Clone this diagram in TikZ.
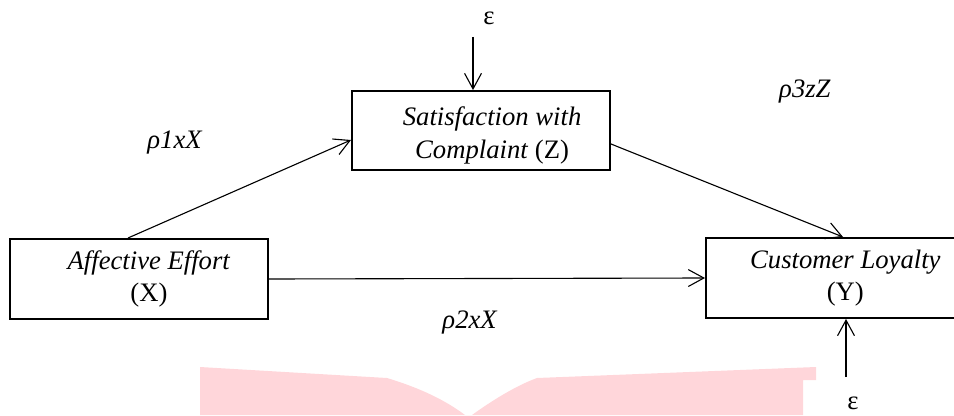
\documentclass[tikz,border=0pt]{standalone}
\usepackage{fontspec}
\setmainfont{Liberation Serif}
\usetikzlibrary{arrows.meta, calc}
\definecolor{wmpink}{RGB}{255,214,218}

\begin{document}
\begin{tikzpicture}[x=0.45pt, y=-0.45pt, font=\fontsize{12}{14.5}\selectfont,
  varbox/.style={draw, line width=0.9pt, inner sep=0pt, align=center},
  pathline/.style={-{Straight Barb[length=7pt,width=7.6pt]}, line width=0.5pt}]
\useasboundingbox (0,0) rectangle (954,415);
\fill[wmpink] (200,367) -- (387,378) .. controls (420,388) and (445,400) .. (465,415) -- (472,415) .. controls (490,402) and (515,386) .. (537,378) -- (816,367) -- (816,380) -- (803,380) -- (803,415) -- (200,415) -- cycle;
\node[varbox, minimum width=116.1pt, minimum height=36pt] (aff) at (139,279) {\hspace*{9pt}\textit{Affective Effort}\\\hspace*{9pt}(X)};
\node[varbox, minimum width=116.1pt, minimum height=35.5pt] (sat) at (481,130.5) {\rule{0pt}{13pt}\hspace*{10pt}\textit{Satisfaction with}\\\hspace*{10pt}\textit{Complaint} (Z)};
\node[varbox, minimum width=113.4pt, minimum height=36pt] (loy) at (832,278) {\hspace*{12pt}\textit{Customer Loyalty}\\\hspace*{12pt}(Y)};
\node (p1) at (175,143) {\textit{ρ1xX}};
\node (p2) at (470,323) {\textit{ρ2xX}};
\node (p3) at (805,92) {\textit{ρ3zZ}};
\node (e1) at (489,18) {ε};
\node (e2) at (853,403) {ε};
\coordinate (e1s) at (473,37);
\coordinate (e2s) at (846,377);
\draw[pathline] ($(aff.north)+(-11,0)$) -- ($(sat.west)+(0,9.5)$);
\draw[pathline] ($(sat.east)+(0,13.5)$) -- ($(loy.north)+(11,0)$);
\draw[pathline] (aff.east) -- (loy.west);
\draw[pathline] (e1s) -- (e1s |- sat.north);
\draw[pathline] (e2s) -- (e2s |- loy.south);
\end{tikzpicture}
\end{document}
